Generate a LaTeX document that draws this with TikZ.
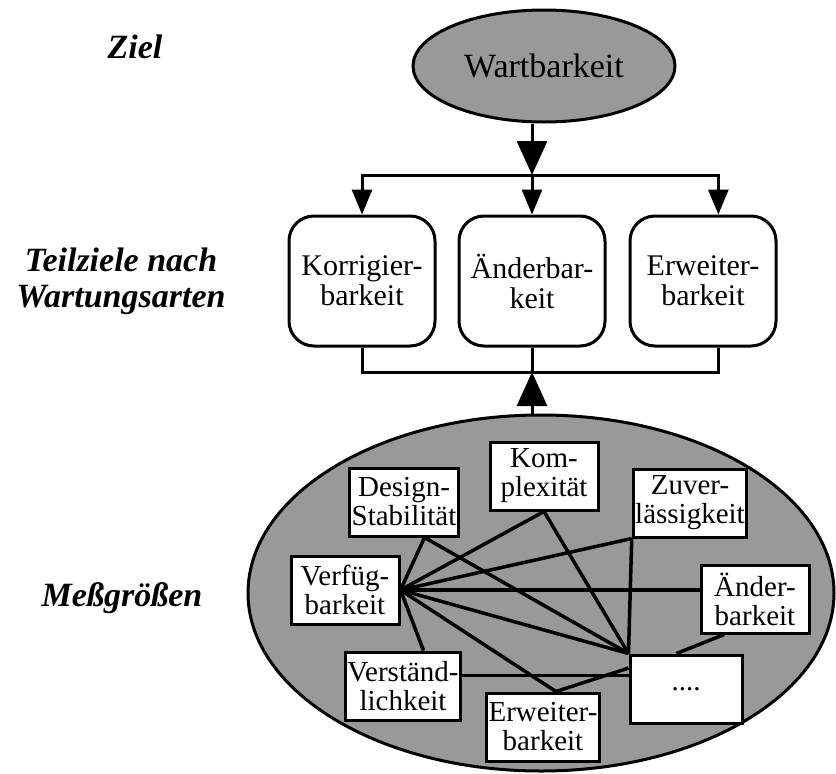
\documentclass[tikz,border=0pt]{standalone}
\usepackage{fontspec}
\setmainfont{Liberation Serif}
\usetikzlibrary{shapes.geometric,arrows.meta}

\begin{document}
\begin{tikzpicture} [x = 1pt, y = -1pt,
  lbl/.style = {font = \fontsize{34}{36}\selectfont\bfseries\itshape, align = center},
  goal/.style = {ellipse, draw, line width = 3pt, fill = black!40, inner sep = 0pt, minimum width = 262pt, minimum height = 112pt, font = \fontsize{34}{34}\selectfont},
  subgoal/.style = {draw, rounded corners = 25pt, line width = 3pt, minimum width = 146pt, minimum height = 130pt, align = center, font = \fontsize{30}{30}\selectfont},
  measure/.style = {ellipse, draw, line width = 3pt, fill = black!40, inner sep = 0pt, minimum width = 586pt, minimum height = 356pt},
  metric/.style = {draw, fill = white, line width = 3pt, minimum width = 108pt, minimum height = 68pt, inner xsep = 2pt, inner ysep = 2pt, align = center, font = \fontsize{29}{29}\selectfont},
  link/.style = {line width = 3.5pt},
  bar/.style = {line width = 3pt},
  bigtip/.style = {line width = 3pt, -{Triangle[width = 30pt, length = 34pt]}},
  smalltip/.style = {line width = 3pt, -{Triangle[width = 20pt, length = 25pt]}}]
\useasboundingbox (0, 0) rectangle (836, 774);
\node[lbl] (ziel) at (135, 47) {Ziel};
\node[lbl] (teil) at (121, 281) {Teilziele nach\\Wartungsarten};
\node[lbl] (mess) at (122, 598) {Meßgrößen};

\node[goal] (wart) at (544, 66) {Wartbarkeit};
\node[subgoal] (korr) at (362, 281) {Korrigier-\\barkeit};
\node[subgoal] (aend) at (532, 281) {Änderbar-\\keit};
\node[subgoal] (erw) at (703, 281) {Erweiter-\\barkeit};
\coordinate (split) at (532, 175);
\coordinate (join) at (532, 372);
\draw[bigtip] (wart.south -| split) -- (split);
\draw[smalltip] (split) -| (korr.north);
\draw[smalltip] (split) -- (aend.north);
\draw[smalltip] (split) -| (erw.77);
\draw[bar] (korr.south) |- (join) -| (erw.-77);
\draw[bar] (aend.south) -- (join);

\node[measure] (meas) at (541, 593) {};
\draw[bigtip] (meas.north -| join) -- (join);

\node[metric] (design) at (404, 502) {Design-\\Stabilität};
\node[metric] (kompl) at (544, 476) {Kom-\\plexität};
\node[metric] (zuver) at (690, 503) {Zuver-\\lässigkeit};
\node[metric] (verf) at (345, 590) {Verfüg-\\barkeit};
\node[metric] (aendm) at (755, 599) {Änder-\\barkeit};
\node[metric] (verst) at (403, 686) {Verständ-\\lichkeit};
\node[metric] (erwm) at (543, 727) {Erweiter-\\barkeit};
\node[metric, minimum width = 112pt] (rest) at (686, 689) {....};

\draw[link] (verf.east) -- (design.-60);
\draw[link] (verf.east) -- (kompl.south);
\draw[link] (verf.east) -- (zuver.south west);
\draw[link] (verf.east) -- (verf.east -| aendm.west);
\draw[link] (verf.east) -- (rest.north west);
\draw[link] (verf.east) -- (erwm.70);
\draw[link] (verf.east) -- (verst.60);
\draw[link] (design.-60) -- (rest.north west);
\draw[link] (kompl.south) -- (rest.north west);
\draw[link] (zuver.south west) -- (rest.north west);
\draw[link] (aendm.-131) -- (rest.105);
\draw[link] (verst.10) -- (verst.10 -| rest.west);
\draw[link] (erwm.70) -- (rest.160);
\end{tikzpicture}
\end{document}
